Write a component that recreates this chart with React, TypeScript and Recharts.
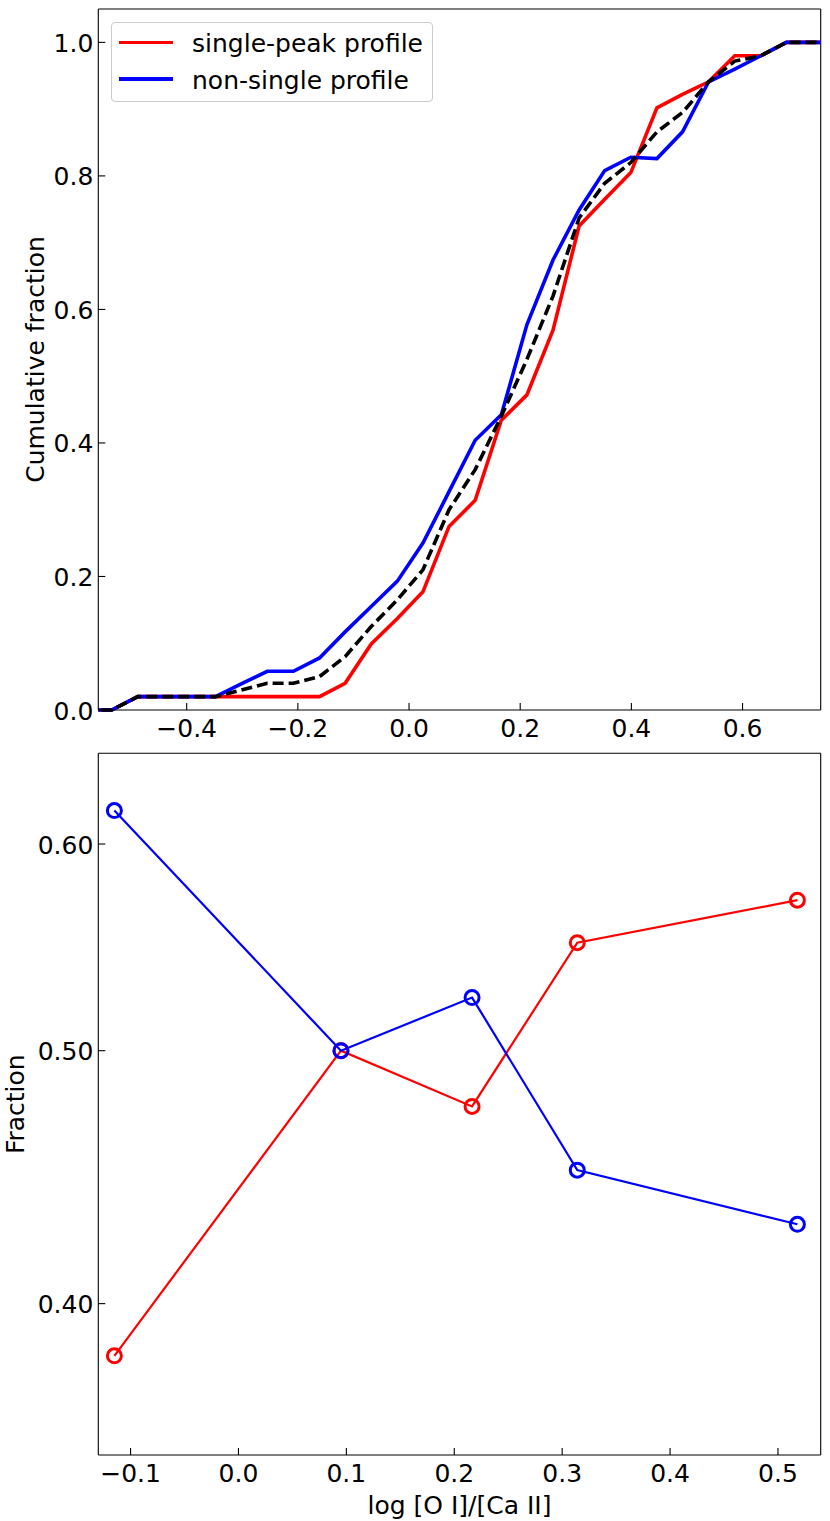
import React from 'react';
import { LineChart, Line, XAxis, YAxis, ReferenceLine, Legend } from 'recharts';

const FONT = '"DejaVu Sans", "Liberation Sans", sans-serif';
const FS = 25;
const AXIS = { stroke: '#000', strokeWidth: 1.1 };
const TICK_LEN = 7;

// cumulative fractions on a common grid of log [O I]/[Ca II]
const cdfX = [
  -0.582, -0.535, -0.488, -0.442, -0.395, -0.348, -0.302, -0.255, -0.208, -0.161,
  -0.115, -0.068, -0.021, 0.025, 0.072, 0.119, 0.166, 0.212, 0.259, 0.306,
  0.352, 0.399, 0.446, 0.492, 0.539, 0.586, 0.633, 0.679, 0.726, 0.773,
];
const cdfSingle = [
  0, 0, 0.02, 0.02, 0.02, 0.02, 0.02, 0.02, 0.02, 0.02,
  0.04, 0.099, 0.137, 0.177, 0.275, 0.314, 0.434, 0.472, 0.569, 0.725,
  0.765, 0.805, 0.902, 0.922, 0.941, 0.98, 0.98, 1.0, 1.0, 1.0,
];
const cdfNonSingle = [
  0, 0, 0.02, 0.02, 0.02, 0.02, 0.039, 0.058, 0.058, 0.078,
  0.117, 0.155, 0.193, 0.25, 0.327, 0.404, 0.442, 0.577, 0.674, 0.749,
  0.808, 0.828, 0.826, 0.866, 0.941, 0.96, 0.98, 1.0, 1.0, 1.0,
];
const cdfAll = [
  0, 0, 0.02, 0.02, 0.02, 0.02, 0.03, 0.04, 0.04, 0.05,
  0.08, 0.125, 0.165, 0.21, 0.3, 0.36, 0.44, 0.525, 0.62, 0.737,
  0.789, 0.82, 0.866, 0.895, 0.941, 0.972, 0.98, 1.0, 1.0, 1.0,
];
const cdfXTicks = [-0.4, -0.2, 0, 0.2, 0.4, 0.6];
const cdfYTicks = [0, 0.2, 0.4, 0.6, 0.8, 1.0];
const cdfXDomain = [-0.559, 0.7406];
const cdfYDomain = [0, 1.05];

// fraction of each profile type per bin
const binX = [-0.115, 0.095, 0.2165, 0.314, 0.518];
const fracSingle = [0.382, 0.5, 0.476, 0.55, 0.571];
const fracNonSingle = [0.618, 0.5, 0.524, 0.45, 0.429];
const binXTicks = [-0.1, 0, 0.1, 0.2, 0.3, 0.4, 0.5];
const fracYTicks = [0.4, 0.5, 0.6];
const binXDomain = [-0.1299, 0.5396];
const fracYDomain = [0.35, 0.65];

// legend order as in the original
const legendOrder = ['single', 'nonSingle'];

const cdfData = cdfX.map((x, i) => ({
  x,
  single: cdfSingle[i],
  nonSingle: cdfNonSingle[i],
  all: cdfAll[i],
}));

const fracData = binX.map((x, i) => ({
  x,
  single: fracSingle[i],
  nonSingle: fracNonSingle[i],
}));

const fmt = (v: number, digits: number) => v.toFixed(digits).replace('-', '\u2212');

const textProps = { fontSize: FS, fontFamily: FONT, fill: '#000' };

// ticks point into the plot, like the matplotlib original
const BottomTick = ({ x, y, payload, digits }: any) => (
  <g>
    <line x1={x} x2={x} y1={y} y2={y - TICK_LEN} {...AXIS} />
    <text x={x} y={y + 26.5} textAnchor="middle" {...textProps}>
      {fmt(payload.value, digits)}
    </text>
  </g>
);

const LeftTick = ({ x, y, payload, digits }: any) => (
  <g>
    <line x1={x} x2={x + TICK_LEN} y1={y} y2={y} {...AXIS} />
    <text x={x - 5} y={y + 9.5} textAnchor="end" {...textProps}>
      {fmt(payload.value, digits)}
    </text>
  </g>
);

const LegendBox = ({ payload }: any) => {
  const items = (payload ?? [])
    .filter((p: any) => legendOrder.includes(p.dataKey))
    .sort((a: any, b: any) => legendOrder.indexOf(a.dataKey) - legendOrder.indexOf(b.dataKey));
  return (
    <div
      style={{
        position: 'relative',
        width: 322,
        height: 80,
        boxSizing: 'border-box',
        border: '1px solid #cccccc',
        borderRadius: 4,
        background: 'rgba(255,255,255,0.8)',
        fontFamily: FONT,
        fontSize: FS,
      }}
    >
      {items.map((item: any, i: number) => (
        <div key={item.value} style={{ position: 'absolute', left: 7, top: 19.3 + i * 36.7 }}>
          <div
            style={{
              position: 'absolute',
              left: 0,
              top: -1.8,
              width: 54,
              height: 3.6,
              background: item.color,
            }}
          />
          <span
            style={{
              position: 'absolute',
              left: 73,
              top: -11.2,
              lineHeight: '25px',
              whiteSpace: 'nowrap',
              color: '#000',
            }}
          >
            {item.value}
          </span>
        </div>
      ))}
    </div>
  );
};

const CdfPanel = () => (
  <LineChart width={830} height={760} data={cdfData} margin={{ top: 9, right: 9.3, left: 0, bottom: 0 }}>
    <XAxis
      dataKey="x"
      type="number"
      domain={cdfXDomain}
      allowDataOverflow
      ticks={cdfXTicks}
      interval={0}
      height={50}
      tickSize={0}
      tickMargin={0}
      tickLine={false}
      axisLine={AXIS}
      tick={(p: any) => <BottomTick {...p} digits={1} />}
    />
    <YAxis
      type="number"
      domain={cdfYDomain}
      ticks={cdfYTicks}
      interval={0}
      width={98.3}
      tickSize={0}
      tickMargin={0}
      tickLine={false}
      axisLine={AXIS}
      tick={(p: any) => <LeftTick {...p} digits={1} />}
      label={() => (
        <text x={43.5} y={359.5} transform="rotate(-90 43.5 359.5)" textAnchor="middle" {...textProps}>
          Cumulative fraction
        </text>
      )}
    />
    <ReferenceLine y={cdfYDomain[1]} {...AXIS} />
    <ReferenceLine x={cdfXDomain[1]} {...AXIS} />
    <Legend
      layout="vertical"
      align="center"
      verticalAlign="middle"
      wrapperStyle={{ left: 111, top: 22, width: 322, height: 80 }}
      content={(p: any) => <LegendBox {...p} />}
    />
    <Line
      dataKey="single"
      name="single-peak profile"
      stroke="#ff0000"
      strokeWidth={3.6}
      dot={false}
      type="linear"
      isAnimationActive={false}
    />
    <Line
      dataKey="nonSingle"
      name="non-single profile"
      stroke="#0000ff"
      strokeWidth={3.6}
      dot={false}
      type="linear"
      isAnimationActive={false}
    />
    <Line
      dataKey="all"
      name="all"
      legendType="none"
      stroke="#000"
      strokeWidth={3.6}
      strokeDasharray="11 5"
      dot={false}
      type="linear"
      isAnimationActive={false}
    />
  </LineChart>
);

const FractionPanel = () => (
  <LineChart width={830} height={781} data={fracData} margin={{ top: 13.3, right: 9.3, left: 0, bottom: 0 }}>
    <XAxis
      dataKey="x"
      type="number"
      domain={binXDomain}
      allowDataOverflow
      ticks={binXTicks}
      interval={0}
      height={66}
      tickSize={0}
      tickMargin={0}
      tickLine={false}
      axisLine={AXIS}
      tick={(p: any) => <BottomTick {...p} digits={1} />}
      label={() => (
        <text x={459.5} y={774} textAnchor="middle" {...textProps}>
          log [O I]/[Ca II]
        </text>
      )}
    />
    <YAxis
      type="number"
      scale="log"
      domain={fracYDomain}
      allowDataOverflow
      ticks={fracYTicks}
      interval={0}
      width={98.3}
      tickSize={0}
      tickMargin={0}
      tickLine={false}
      axisLine={AXIS}
      tick={(p: any) => <LeftTick {...p} digits={2} />}
      label={() => (
        <text x={24} y={364.2} transform="rotate(-90 24 364.2)" textAnchor="middle" {...textProps}>
          Fraction
        </text>
      )}
    />
    <ReferenceLine y={fracYDomain[1]} {...AXIS} />
    <ReferenceLine x={binXDomain[1]} {...AXIS} />
    <Line
      dataKey="single"
      stroke="#ff0000"
      strokeWidth={2.2}
      dot={{ r: 7, stroke: '#ff0000', strokeWidth: 3, fill: 'none' }}
      type="linear"
      isAnimationActive={false}
    />
    <Line
      dataKey="nonSingle"
      stroke="#0000ff"
      strokeWidth={2.2}
      dot={{ r: 7, stroke: '#0000ff', strokeWidth: 3, fill: 'none' }}
      type="linear"
      isAnimationActive={false}
    />
  </LineChart>
);

export default function App() {
  return (
    <div style={{ position: 'absolute', left: 0, top: 0, width: 830, height: 1521, background: '#fff' }}>
      <div style={{ position: 'absolute', left: 0, top: 0 }}>
        <CdfPanel />
      </div>
      <div style={{ position: 'absolute', left: 0, top: 740 }}>
        <FractionPanel />
      </div>
    </div>
  );
}
